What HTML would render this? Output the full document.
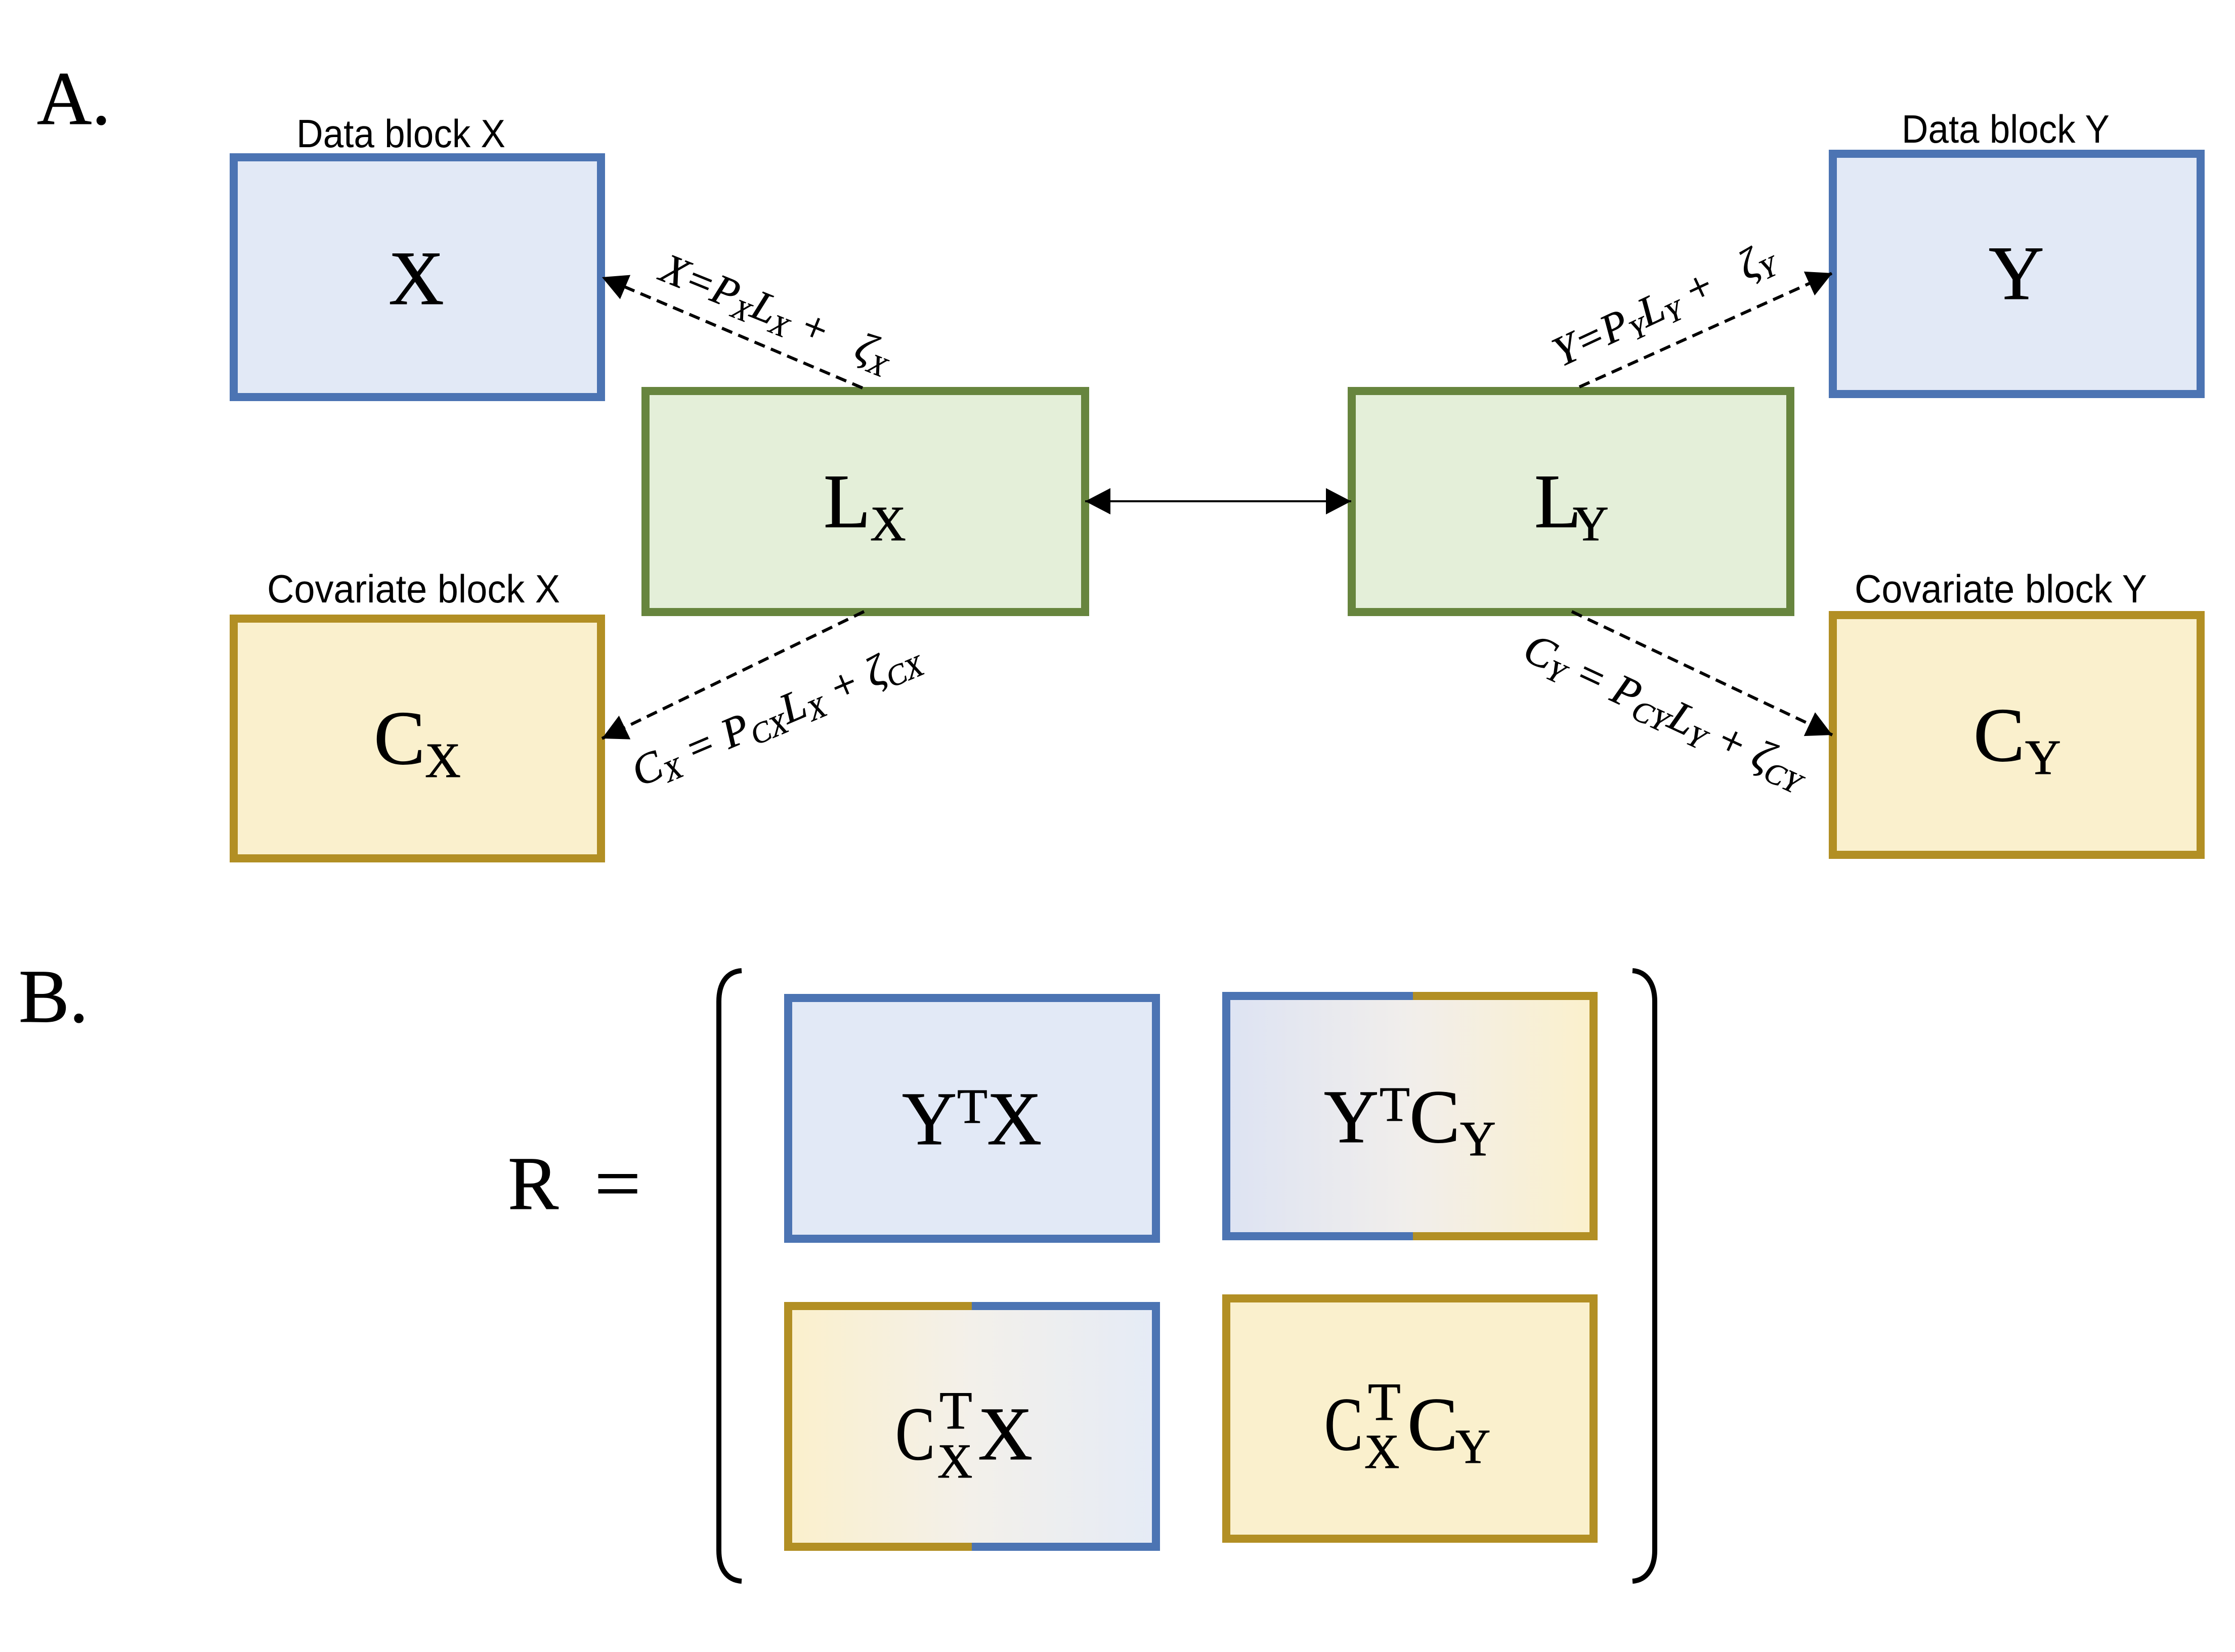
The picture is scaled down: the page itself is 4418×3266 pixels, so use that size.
<!DOCTYPE html>
<html><head><meta charset="utf-8"><style>
html,body{margin:0;padding:0;background:#fff;width:4418px;height:3266px;overflow:hidden}
svg{display:block}
.s{font-family:"Liberation Serif",serif;fill:#000;stroke:#000;stroke-width:1px}
.c{font-family:"Liberation Sans",sans-serif;fill:#000;font-size:78px}
.e{font-family:"Liberation Serif",serif;font-style:italic;fill:#000;stroke:#000;stroke-width:.8px}
</style></head><body>
<svg xmlns="http://www.w3.org/2000/svg" width="4418" height="3266" viewBox="0 0 4418 3266">
<defs>
<linearGradient id="g1"><stop offset="0" stop-color="#dde3f3"/><stop offset=".5" stop-color="#f1eeeb"/><stop offset="1" stop-color="#fbf0cc"/></linearGradient>
<linearGradient id="g2"><stop offset="0" stop-color="#fbf0cc"/><stop offset=".5" stop-color="#f3f0ea"/><stop offset="1" stop-color="#e5ebf6"/></linearGradient>
<marker id="ah" markerUnits="userSpaceOnUse" markerWidth="52" markerHeight="52" refX="50" refY="26" orient="auto-start-reverse"><path d="M0 0L50 26L0 52Z" fill="#000"/></marker>
</defs>
<g stroke-width="16">
<rect x="462" y="311" width="726" height="474" fill="#e2e9f6" stroke="#4c74b3"/>
<rect x="462" y="1223" width="726" height="474" fill="#faf0cd" stroke="#b28f24"/>
<rect x="1276" y="773" width="869" height="437" fill="#e4efd9" stroke="#67853e"/>
<rect x="2672" y="773" width="867" height="437" fill="#e4efd9" stroke="#67853e"/>
<rect x="3623" y="304" width="727" height="475" fill="#e2e9f6" stroke="#4c74b3"/>
<rect x="3623" y="1216" width="727" height="474" fill="#faf0cd" stroke="#b28f24"/>
<rect x="1558" y="1973" width="727" height="476" fill="#e2e9f6" stroke="#4c74b3"/>
<rect x="2424" y="1969" width="726" height="475" fill="url(#g1)" stroke="#4c74b3"/>
<path d="M2793 1969H3150V2444H2793" fill="none" stroke="#b28f24"/>
<rect x="1558" y="2582" width="727" height="476" fill="url(#g2)" stroke="#4c74b3"/>
<path d="M1921 2582H1558V3058H1921" fill="none" stroke="#b28f24"/>
<rect x="2424" y="2567" width="726" height="475" fill="#faf0cd" stroke="#b28f24"/>
</g>
<g fill="none" stroke="#000" stroke-width="6" stroke-dasharray="22 13">
<line x1="1705" y1="767" x2="1190" y2="548" marker-end="url(#ah)"/>
<line x1="1708" y1="1209" x2="1190" y2="1460" marker-end="url(#ah)"/>
<line x1="3122" y1="765" x2="3622" y2="540" marker-end="url(#ah)"/>
<line x1="3107" y1="1209" x2="3622" y2="1453" marker-end="url(#ah)"/>
</g>
<line x1="2145" y1="991" x2="2671" y2="991" stroke="#000" stroke-width="4" marker-start="url(#ah)" marker-end="url(#ah)"/>
<g fill="none" stroke="#000" stroke-width="10">
<path d="M1466 1919C1436 1921 1421 1945 1421 1980V3065C1421 3100 1436 3124 1466 3126"/>
<path d="M3227 1919C3255 1921 3271 1945 3271 1980V3065C3271 3100 3255 3124 3227 3126"/>
</g>
<text class="c" x="586" y="291" textLength="413" lengthAdjust="spacingAndGlyphs">Data block X</text>
<text class="c" x="528" y="1191" textLength="579" lengthAdjust="spacingAndGlyphs">Covariate block X</text>
<text class="c" x="3759" y="282" textLength="411" lengthAdjust="spacingAndGlyphs">Data block Y</text>
<text class="c" x="3666" y="1191" textLength="578" lengthAdjust="spacingAndGlyphs">Covariate block Y</text>
<g class="s" font-size="150">
<text x="73" y="245">A.</text>
<text x="37" y="2020">B.</text>
<text x="768" y="601" font-size="152">X</text>
<text x="3931" y="591" font-size="152">Y</text>
<text x="1628" y="1042" font-size="152">L</text><text x="1720" y="1068" font-size="98">X</text>
<text x="3033" y="1042" font-size="152">L</text><text x="3109" y="1068" font-size="98">Y</text>
<text x="739" y="1510" font-size="152">C</text><text x="840" y="1536" font-size="98">X</text>
<text x="3901" y="1504" font-size="152">C</text><text x="4003" y="1530" font-size="98">Y</text>
<text x="1004" y="2390">R</text>
<text x="1175" y="2390" textLength="92" lengthAdjust="spacingAndGlyphs">=</text>
<text x="1783" y="2262">Y</text><text x="1892" y="2220" font-size="98">T</text><text x="1951" y="2262">X</text>
<text x="2617" y="2258">Y</text><text x="2727" y="2216" font-size="98">T</text><text x="2786" y="2258">C</text><text x="2886" y="2284" font-size="98">Y</text>
<text x="1770" y="2885" textLength="78" lengthAdjust="spacingAndGlyphs">C</text><text x="1857" y="2824" font-size="106">T</text><text x="1853" y="2921" font-size="96">X</text><text x="1933" y="2885">X</text>
<text x="2618" y="2866" textLength="76" lengthAdjust="spacingAndGlyphs">C</text><text x="2704" y="2807" font-size="106">T</text><text x="2697" y="2902" font-size="96">X</text><text x="2782" y="2866">C</text><text x="2877" y="2892" font-size="96">Y</text>
</g>
<g class="e">
<text font-size="84" transform="translate(1300 552) rotate(22)">X=P<tspan font-size="56" dy="14">X</tspan><tspan dy="-14">L</tspan><tspan font-size="56" dy="14">X</tspan><tspan dy="-14"> +&#160;&#160;&#160;ζ</tspan><tspan font-size="56" dy="14">X</tspan></text>
<text font-size="85" transform="translate(1264 1556) rotate(-23)">C<tspan font-size="58" dy="14">X</tspan><tspan dy="-14"> = P</tspan><tspan font-size="58" dy="14">CX</tspan><tspan dy="-14">L</tspan><tspan font-size="58" dy="14">X</tspan><tspan dy="-14"> + ζ</tspan><tspan font-size="58" dy="14">CX</tspan></text>
<text font-size="84" transform="translate(3086 726) rotate(-25)">Y=P<tspan font-size="56" dy="14">Y</tspan><tspan dy="-14">L</tspan><tspan font-size="56" dy="14">Y</tspan><tspan dy="-14"> +&#160;&#160;&#160;ζ</tspan><tspan font-size="56" dy="14">Y</tspan></text>
<text font-size="86" transform="translate(3006 1302) rotate(25)">C<tspan font-size="59" dy="14">Y</tspan><tspan dy="-14"> = P</tspan><tspan font-size="59" dy="14">CY</tspan><tspan dy="-14">L</tspan><tspan font-size="59" dy="14">Y</tspan><tspan dy="-14"> + ζ</tspan><tspan font-size="59" dy="14">CY</tspan></text>
</g>
</svg>
</body></html>
